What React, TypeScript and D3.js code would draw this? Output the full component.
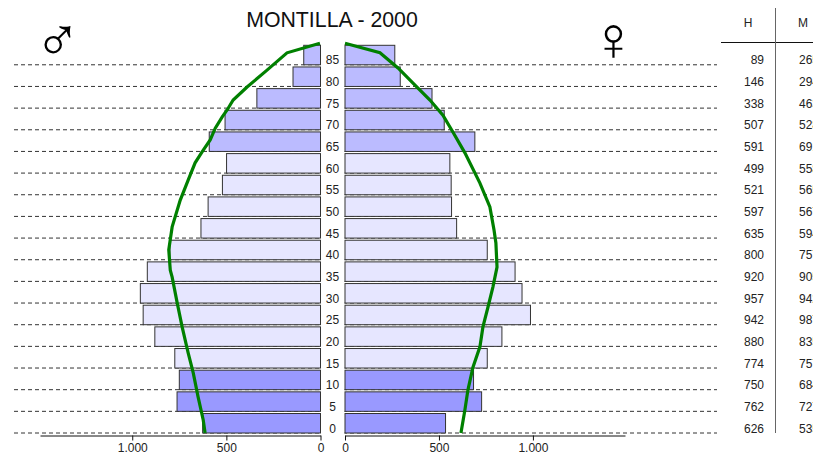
import * as d3 from "d3";
import React from "react";
import { useEffect, useRef } from "react";

const ages = [85, 80, 75, 70, 65, 60, 55, 50, 45, 40, 35, 30, 25, 20, 15, 10, 5, 0];
const males = [89, 146, 338, 507, 591, 499, 521, 597, 635, 800, 920, 957, 942, 880, 774, 750, 762, 626];
const females = [265, 294, 463, 528, 691, 558, 565, 567, 594, 757, 905, 942, 987, 835, 757, 684, 727, 535];

// reference population curves (age, people)
const maleCurveAges = [0, 3, 8.3, 13.9, 18.5, 24.5, 30, 36, 37.6, 42.3, 47.6, 53.8, 58.4, 62.4, 64.9, 67.7, 70.4, 73, 74.6, 76.9, 79.9, 83.8, 87.8, 90];
const maleCurve = [613, 623, 650, 676, 703, 735, 761, 788, 798, 806, 788, 745, 703, 666, 629, 586, 559, 522, 496, 464, 390, 284, 178, 3];
const femaleCurveAges = [0, 5.3, 9.9, 15.2, 19.9, 24.5, 29.1, 33.7, 38.3, 43.9, 46.9, 52.2, 57.7, 64.7, 69.5, 73.4, 76.9, 79.9, 84.3, 87.8, 90];
const femaleCurve = [617, 638, 654, 681, 718, 734, 761, 787, 809, 803, 793, 771, 718, 638, 574, 521, 452, 383, 282, 186, 0];

const axisTicks = [0, 500, 1000];
const tickLabels = ["0", "500", "1.000"];

const barColor = (age: number) => {
    if (age >= 65) return "#bbbbff";
    if (age >= 15) return "#e6e6ff";
    return "#9999ff";
};

const App = () => {
    const chartArea = useRef(null);
    const width = 813, height = 457;

    useEffect(() => {
        createChart();
    }, []);

    const createChart = () => {
        const svg = d3.select(chartArea.current)
            .attr("width", width)
            .attr("height", height)
            .style("position", "absolute")
            .style("left", 0)
            .style("top", 0)
            .style("font-family", "'Liberation Sans', Arial, sans-serif");
        svg.selectAll("*").remove();

        const xMale = d3.scaleLinear().domain([0, 1490]).range([320.5, 40]);
        const xFemale = d3.scaleLinear().domain([0, 1490]).range([345, 625]);
        const yBand = d3.scaleBand<number>().domain(ages).range([45.3, 433]).paddingInner(0.1);
        const yAge = d3.scaleLinear().domain([0, 90]).range([433, 43.3]);

        // dashed guide lines run behind the bars
        svg.selectAll("line.guide")
            .data(ages)
            .enter()
            .append("line")
            .attr("class", "guide")
            .attr("x1", 14)
            .attr("x2", 717)
            .attr("y1", d => yBand(d)! + yBand.bandwidth())
            .attr("y2", d => yBand(d)! + yBand.bandwidth())
            .attr("stroke", "#333")
            .attr("stroke-dasharray", "4,3");

        // white gap behind the age labels
        svg.append("rect")
            .attr("x", xMale(0) + 0.5)
            .attr("y", 40)
            .attr("width", xFemale(0) - xMale(0) - 1)
            .attr("height", 400)
            .attr("fill", "white");

        svg.selectAll("rect.male")
            .data(ages)
            .enter()
            .append("rect")
            .attr("class", "male")
            .attr("x", (d, i) => xMale(males[i]))
            .attr("y", d => yBand(d)!)
            .attr("width", (d, i) => xMale(0) - xMale(males[i]))
            .attr("height", yBand.bandwidth())
            .attr("fill", d => barColor(d))
            .attr("stroke", "#333");

        svg.selectAll("rect.female")
            .data(ages)
            .enter()
            .append("rect")
            .attr("class", "female")
            .attr("x", xFemale(0))
            .attr("y", d => yBand(d)!)
            .attr("width", (d, i) => xFemale(females[i]) - xFemale(0))
            .attr("height", yBand.bandwidth())
            .attr("fill", d => barColor(d))
            .attr("stroke", "#333");

        svg.selectAll("text.age")
            .data(ages)
            .enter()
            .append("text")
            .attr("class", "age")
            .attr("x", 332.5)
            .attr("y", d => yBand(d)! + 19)
            .attr("text-anchor", "middle")
            .attr("font-size", 12)
            .attr("fill", "#222")
            .text(d => d);

        // reference curves
        const maleLine = d3.line<number>()
            .x((d, i) => xMale(maleCurve[i]))
            .y(d => yAge(d));
        const femaleLine = d3.line<number>()
            .x((d, i) => xFemale(femaleCurve[i]))
            .y(d => yAge(d));
        svg.append("path").attr("d", maleLine(maleCurveAges)).attr("fill", "none").attr("stroke", "#008000").attr("stroke-width", 3.2);
        svg.append("path").attr("d", femaleLine(femaleCurveAges)).attr("fill", "none").attr("stroke", "#008000").attr("stroke-width", 3.2);

        // x axes
        const fmt = (d: any) => tickLabels[axisTicks.indexOf(d)];
        [xMale, xFemale].forEach(scale => {
            const axis = svg.append("g")
                .attr("transform", "translate(0,435.5)")
                .call(d3.axisBottom(scale).tickValues(axisTicks).tickFormat(fmt).tickSizeInner(5).tickSizeOuter(0).tickPadding(3) as any);
            axis.select(".domain").attr("stroke", "#111");
            axis.selectAll("line").attr("stroke", "#111");
            axis.selectAll("text").attr("font-size", 12).attr("font-family", "'Liberation Sans', Arial, sans-serif").attr("fill", "#222");
        });

        svg.append("text")
            .attr("x", 332)
            .attr("y", 27)
            .attr("text-anchor", "middle")
            .attr("font-size", 21.3)
            .attr("fill", "#111")
            .text("MONTILLA - 2000");

        svg.append("text").attr("x", 57.5).attr("y", 60.5).attr("text-anchor", "middle").attr("font-size", 62).text("\u2642");
        svg.append("text").attr("x", 613.5).attr("y", 60).attr("text-anchor", "middle").attr("font-size", 62).text("\u2640");

        // side table
        svg.append("line").attr("x1", 721).attr("x2", width).attr("y1", 42.5).attr("y2", 42.5).attr("stroke", "#111");
        svg.append("line").attr("x1", 775.5).attr("x2", 775.5).attr("y1", 8).attr("y2", 433).attr("stroke", "#666");
        svg.append("text").attr("x", 748).attr("y", 27).attr("text-anchor", "middle").attr("font-size", 12).attr("fill", "#222").text("H");
        svg.append("text").attr("x", 803).attr("y", 27).attr("text-anchor", "middle").attr("font-size", 12).attr("fill", "#222").text("M");

        svg.selectAll("text.h")
            .data(ages)
            .enter()
            .append("text")
            .attr("class", "h")
            .attr("x", 764)
            .attr("y", d => yBand(d)! + 19)
            .attr("text-anchor", "end")
            .attr("font-size", 12)
            .attr("fill", "#222")
            .text((d, i) => males[i]);

        // the female column runs off the right edge, as in the original screenshot
        svg.selectAll("text.m")
            .data(ages)
            .enter()
            .append("text")
            .attr("class", "m")
            .attr("x", 819)
            .attr("y", d => yBand(d)! + 19)
            .attr("text-anchor", "end")
            .attr("font-size", 12)
            .attr("fill", "#222")
            .text((d, i) => females[i]);
    };

    return <svg ref={chartArea} />;
};

export default App;
